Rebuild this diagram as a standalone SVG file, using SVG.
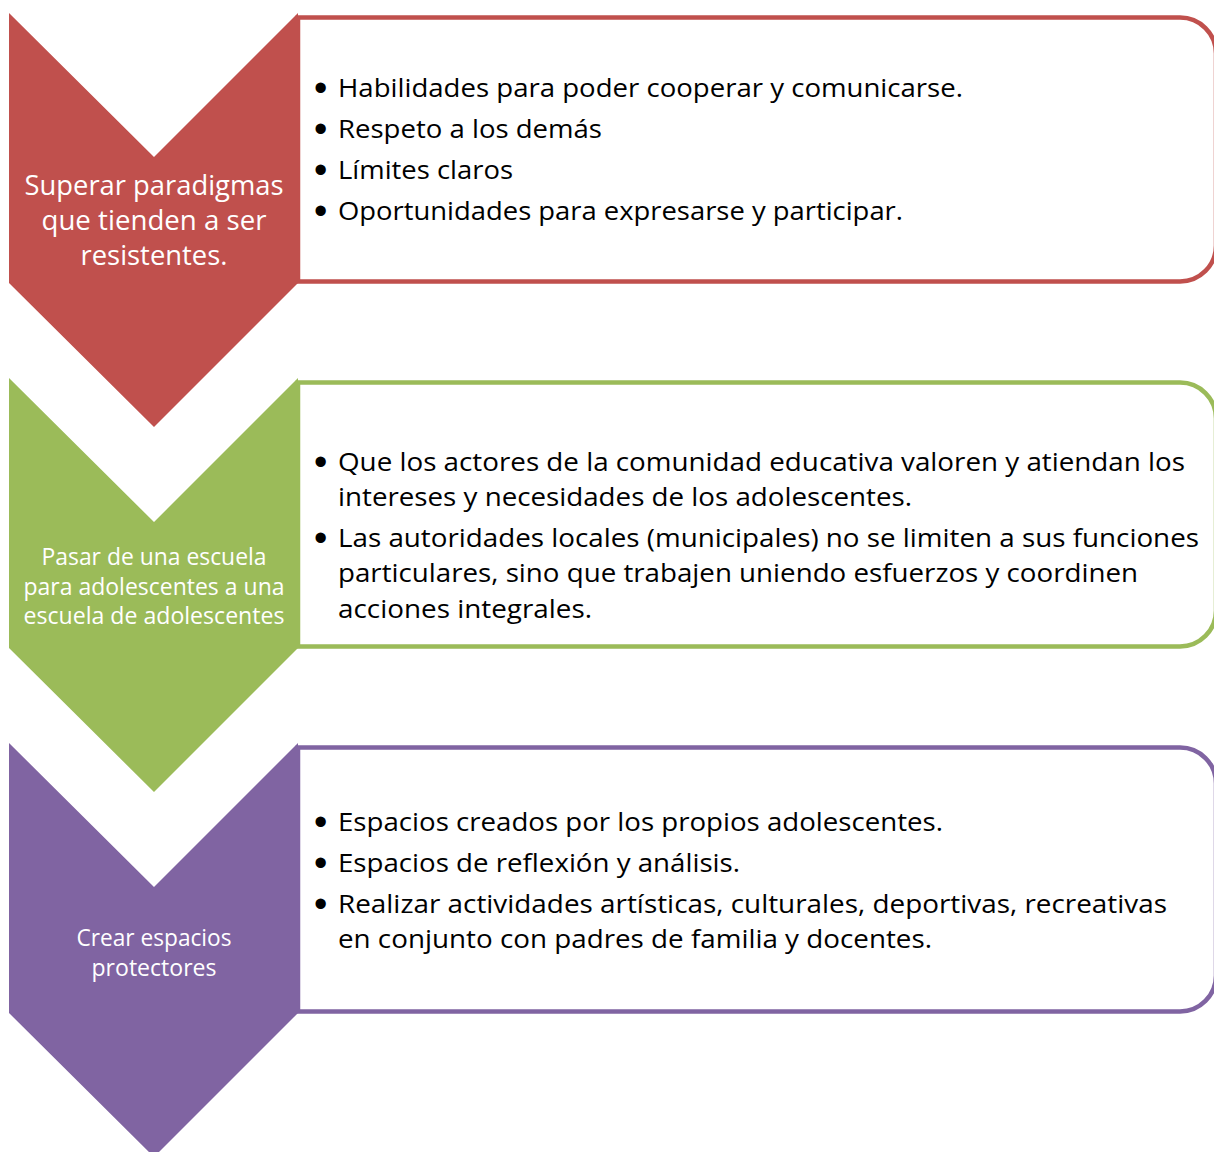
<svg xmlns="http://www.w3.org/2000/svg" width="1214" height="1152" viewBox="0 0 1214 1152">
<style>
.box{fill:#fff;stroke-width:4.5}
.body{font-family:"Open Sans","Noto Sans","Liberation Sans",sans-serif;font-size:25px;fill:#000}
.bul{font-family:"Liberation Sans",sans-serif;font-size:38px;fill:#000}
.lab{font-family:"Open Sans","Noto Sans","Liberation Sans",sans-serif;fill:#fff;text-anchor:middle}
</style>
<rect width="1214" height="1152" fill="#fff"/>

<g id="box-red">
<path class="box" stroke="#C0504D" d="M298,17.5 H1180 A36,36 0 0 1 1216,53.5 V245.5 A36,36 0 0 1 1180,281.5 H298 Z"/>
<text class="bul" x="314" y="101">•</text>
<text class="bul" x="314" y="142">•</text>
<text class="bul" x="314" y="183">•</text>
<text class="bul" x="314" y="224">•</text>
<text class="body" x="338" y="97" textLength="625" lengthAdjust="spacingAndGlyphs">Habilidades para poder cooperar y comunicarse.</text>
<text class="body" x="338" y="138" textLength="264" lengthAdjust="spacingAndGlyphs">Respeto a los demás</text>
<text class="body" x="338" y="179" textLength="175" lengthAdjust="spacingAndGlyphs">Límites claros</text>
<text class="body" x="338" y="220" textLength="565" lengthAdjust="spacingAndGlyphs">Oportunidades para expresarse y participar.</text>
</g>
<g id="chev-red">
<polygon fill="#C0504D" points="9,13 154,157 298,13 298,283 154,427 9,283"/>
<text class="lab" font-size="27" x="154" y="195" textLength="259" lengthAdjust="spacingAndGlyphs">Superar paradigmas</text>
<text class="lab" font-size="27" x="154" y="230" textLength="225" lengthAdjust="spacingAndGlyphs">que tienden a ser</text>
<text class="lab" font-size="27" x="154" y="265" textLength="147" lengthAdjust="spacingAndGlyphs">resistentes.</text>
</g>

<g id="box-green">
<path class="box" stroke="#9BBB59" d="M298,382.5 H1180 A36,36 0 0 1 1216,418.5 V610.5 A36,36 0 0 1 1180,646.5 H298 Z"/>
<text class="bul" x="314" y="475">•</text>
<text class="bul" x="314" y="551">•</text>
<text class="body" x="338" y="471" textLength="847" lengthAdjust="spacingAndGlyphs">Que los actores de la comunidad educativa valoren y atiendan los</text>
<text class="body" x="338" y="506" textLength="574" lengthAdjust="spacingAndGlyphs">intereses y necesidades de los adolescentes.</text>
<text class="body" x="338" y="547" textLength="861" lengthAdjust="spacingAndGlyphs">Las autoridades locales (municipales) no se limiten a sus funciones</text>
<text class="body" x="338" y="582" textLength="800" lengthAdjust="spacingAndGlyphs">particulares, sino que trabajen uniendo esfuerzos y coordinen</text>
<text class="body" x="338" y="618" textLength="254" lengthAdjust="spacingAndGlyphs">acciones integrales.</text>
</g>
<g id="chev-green">
<polygon fill="#9BBB59" points="9,378 154,522 298,378 298,648 154,792 9,648"/>
<text class="lab" font-size="23" x="154" y="565" textLength="225" lengthAdjust="spacingAndGlyphs">Pasar de una escuela</text>
<text class="lab" font-size="23" x="154" y="595" textLength="261" lengthAdjust="spacingAndGlyphs">para adolescentes a una</text>
<text class="lab" font-size="23" x="154" y="624" textLength="261" lengthAdjust="spacingAndGlyphs">escuela de adolescentes</text>
</g>

<g id="box-purple">
<path class="box" stroke="#8064A2" d="M298,747.5 H1180 A36,36 0 0 1 1216,783.5 V975.5 A36,36 0 0 1 1180,1011.5 H298 Z"/>
<text class="bul" x="314" y="835">•</text>
<text class="bul" x="314" y="876">•</text>
<text class="bul" x="314" y="917">•</text>
<text class="body" x="338" y="831" textLength="605" lengthAdjust="spacingAndGlyphs">Espacios creados por los propios adolescentes.</text>
<text class="body" x="338" y="872" textLength="402" lengthAdjust="spacingAndGlyphs">Espacios de reflexión y análisis.</text>
<text class="body" x="338" y="913" textLength="829" lengthAdjust="spacingAndGlyphs">Realizar actividades artísticas, culturales, deportivas, recreativas</text>
<text class="body" x="338" y="948" textLength="594" lengthAdjust="spacingAndGlyphs">en conjunto con padres de familia y docentes.</text>
</g>
<g id="chev-purple">
<polygon fill="#8064A2" points="9,743 154,887 298,743 298,1013 154,1157 9,1013"/>
<text class="lab" font-size="23" x="154" y="946" textLength="155" lengthAdjust="spacingAndGlyphs">Crear espacios</text>
<text class="lab" font-size="23" x="154" y="976" textLength="125" lengthAdjust="spacingAndGlyphs">protectores</text>
</g>
</svg>
